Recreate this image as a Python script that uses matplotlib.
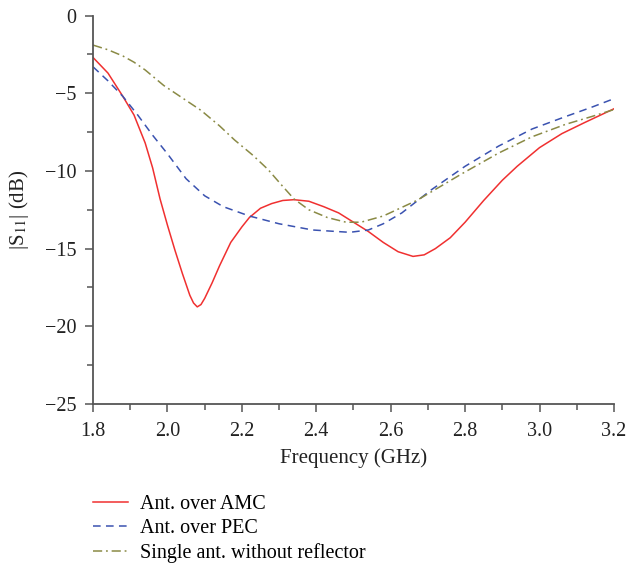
import numpy as np
import matplotlib
matplotlib.use('Agg')
import matplotlib.pyplot as plt
from matplotlib.ticker import MultipleLocator

plt.rcParams['font.family'] = ['Liberation Serif', 'DejaVu Serif']
plt.rcParams['mathtext.fontset'] = 'stix'

# Ant. over AMC
f_amc = [1.80, 1.84, 1.88, 1.91, 1.94, 1.96, 1.98, 2.00, 2.02, 2.04, 2.06, 2.07, 2.08,
         2.09, 2.10, 2.12, 2.14, 2.17, 2.20, 2.22, 2.25, 2.28, 2.31, 2.34, 2.38, 2.42,
         2.46, 2.50, 2.54, 2.58, 2.62, 2.66, 2.69, 2.72, 2.76, 2.80, 2.85, 2.90, 2.94,
         3.00, 3.06, 3.12, 3.20]
s_amc = [-2.7, -3.7, -5.2, -6.4, -8.2, -9.8, -11.8, -13.5, -15.1, -16.6, -18.0, -18.5, -18.75,
         -18.6, -18.2, -17.2, -16.1, -14.6, -13.6, -13.0, -12.4, -12.1, -11.9, -11.85, -11.95, -12.3,
         -12.7, -13.3, -13.9, -14.6, -15.2, -15.5, -15.4, -15.0, -14.3, -13.3, -11.9, -10.6, -9.7,
         -8.5, -7.6, -6.9, -6.0]

# Ant. over PEC
f_pec = [1.80, 1.84, 1.88, 1.92, 1.96, 2.00, 2.05, 2.10, 2.15, 2.22, 2.30, 2.39, 2.49,
         2.54, 2.58, 2.63, 2.71, 2.80, 2.89, 2.98, 3.07, 3.14, 3.20]
s_pec = [-3.3, -4.2, -5.2, -6.4, -7.7, -8.9, -10.5, -11.6, -12.3, -12.9, -13.4, -13.8, -13.95,
         -13.8, -13.4, -12.7, -11.2, -9.7, -8.4, -7.3, -6.5, -5.9, -5.35]

# Single ant. without reflector
f_single = [1.80, 1.84, 1.88, 1.91, 1.94, 1.99, 2.04, 2.09, 2.14, 2.18, 2.23, 2.27, 2.31,
            2.34, 2.38, 2.43, 2.48, 2.52, 2.58, 2.67, 2.79, 2.89, 2.98, 3.07, 3.14, 3.20]
s_single = [-1.9, -2.2, -2.6, -3.0, -3.5, -4.5, -5.3, -6.1, -7.1, -8.0, -9.0, -9.9, -11.0,
            -11.8, -12.5, -13.0, -13.3, -13.3, -12.9, -11.9, -10.2, -8.85, -7.8, -7.0, -6.5, -6.05]

fig = plt.figure(figsize=(6.29, 5.67), dpi=100)
ax = fig.add_axes([0.148, 0.2875, 0.828, 0.685])

ax.plot(f_amc, s_amc, color='#f03030', lw=1.1, ls='-', label='Ant. over AMC')
ax.plot(f_pec, s_pec, color='#3a52b0', lw=1.1, ls=(0, (5, 3.5)), label='Ant. over PEC')
ax.plot(f_single, s_single, color='#8a8a45', lw=1.1, ls=(0, (6, 2.5, 1.2, 2.5)),
        label='Single ant. without reflector')

ax.set_xlim(1.8, 3.2)
ax.set_ylim(-25, 0)
ax.xaxis.set_major_locator(MultipleLocator(0.2))
ax.xaxis.set_minor_locator(MultipleLocator(0.1))
ax.yaxis.set_major_locator(MultipleLocator(5))
ax.yaxis.set_minor_locator(MultipleLocator(2.5))
ax.xaxis.set_major_formatter(plt.FuncFormatter(lambda v, p: '%.1f' % v))
ax.yaxis.set_major_formatter(plt.FuncFormatter(lambda v, p: ('\u2212%d' % -v) if v < 0 else '%d' % v))

for s in ['top', 'right']:
    ax.spines[s].set_visible(False)
for s in ['left', 'bottom']:
    ax.spines[s].set_color('#555555')
    ax.spines[s].set_linewidth(1.3)
ax.tick_params(which='both', direction='out', colors='#555555', labelcolor='#222222',
               labelsize=14.5)
ax.tick_params(which='major', length=6, width=1.1)
ax.tick_params(which='minor', length=4, width=1.1)
ax.tick_params(axis='x', which='major', pad=7)
ax.tick_params(axis='y', which='major', pad=6)

ax.set_xlabel('Frequency (GHz)', fontsize=15, color='#222222', labelpad=5)
ax.set_ylabel(r'|S$_{11}$| (dB)', fontsize=15, color='#222222', labelpad=10)

fig.legend(loc='upper left', bbox_to_anchor=(0.135, 0.141), frameon=False,
           fontsize=14.5, handlelength=1.75, handletextpad=0.6, labelspacing=0.25,
           borderaxespad=0)

fig.savefig('out.png', dpi=100)
